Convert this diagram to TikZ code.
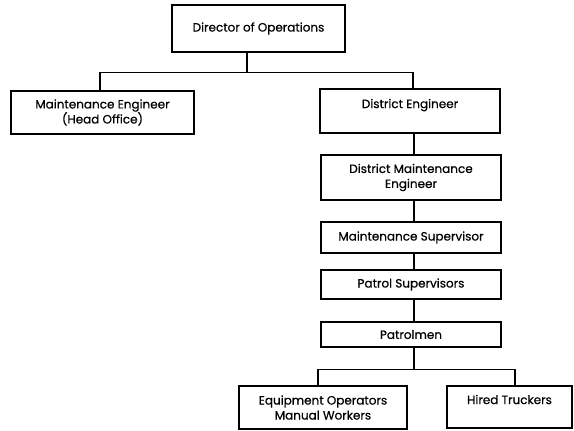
\documentclass[tikz,border=0pt]{standalone}
\usepackage{fontspec}
\newfontfamily\chartfont{Poppins}[FakeBold=0.6]
\begin{document}
\begin{tikzpicture}[x=1pt,y=-1pt,
  post/.style={draw=black, line width=1.2pt, rectangle, inner sep=0pt,
    align=center, font=\chartfont\fontsize{12}{15}\selectfont, text=black},
  link/.style={draw=black, line width=1.2pt}]
\useasboundingbox (0,0) rectangle (574,431);

% positions
\node[post, minimum width=173pt, minimum height=47pt] (dir) at (258.5,28.5) {Director of Operations};
\node[post, minimum width=183pt, minimum height=43pt] (me) at (102.5,112.5) {Maintenance Engineer\\(Head Office)};
\node[post, minimum width=180pt, minimum height=44pt] (de) at (410,111) {District Engineer\\~};
\node[post, minimum width=180pt, minimum height=45pt] (dme) at (411,177.5) {District Maintenance\\Engineer};
\node[post, minimum width=180pt, minimum height=31pt] (ms) at (411,237.5) {Maintenance Supervisor};
\node[post, minimum width=180pt, minimum height=29pt] (ps) at (411,284.5) {Patrol Supervisors};
\node[post, minimum width=180pt, minimum height=25pt] (pm) at (411,334.5) {Patrolmen};
\node[post, minimum width=168pt, minimum height=43pt] (eo) at (323,407.5) {Equipment Operators\\Manual Workers};
\node[post, minimum width=125pt, minimum height=42pt] (ht) at (509.5,407) {Hired Truckers\\~};

% reporting lines
\draw[link] ([xshift=-11.5pt]dir.south) -- ++(0,20) coordinate (j1);
\draw[link] ([xshift=-2.5pt]me.north) |- (j1) -| ([xshift=3pt]de.north);
\draw[link] ([xshift=4pt]de.south) -- ([xshift=3pt]dme.north);
\draw[link] ([xshift=3pt]dme.south) -- ([xshift=3pt]ms.north);
\draw[link] ([xshift=3pt]ms.south) -- ([xshift=3pt]ps.north);
\draw[link] ([xshift=3pt]ps.south) -- ([xshift=3pt]pm.north);
\draw[link] ([xshift=3pt]pm.south) -- ++(0,22) coordinate (j2);
\draw[link] ([xshift=-5pt]eo.north) |- (j2) -| ([xshift=5.5pt]ht.north);
\end{tikzpicture}
\end{document}
